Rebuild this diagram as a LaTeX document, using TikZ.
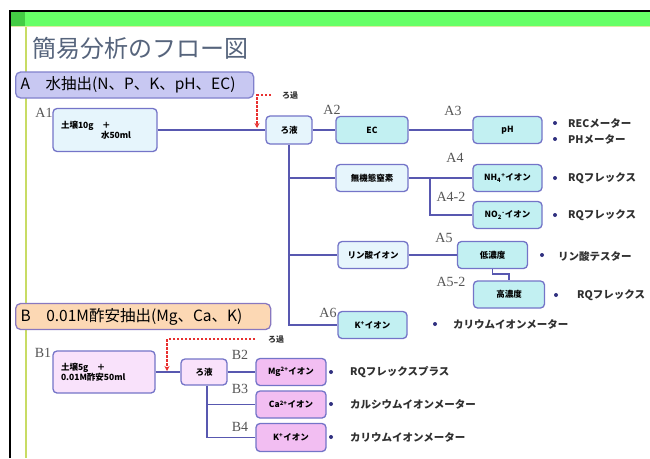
\documentclass[tikz,border=0pt]{standalone}
\usepackage{fontspec}
\setmainfont{Noto Sans CJK JP}
\newfontfamily\labfont{Liberation Serif}
\usetikzlibrary{arrows.meta,calc}
\definecolor{linec}{HTML}{5858B0}
\definecolor{boxc}{HTML}{7474C8}
\definecolor{cyanf}{HTML}{C2F0F2}
\definecolor{lightf}{HTML}{E6F5FC}
\definecolor{pinkf}{HTML}{F9E2FB}
\definecolor{magf}{HTML}{F2BEF2}
\definecolor{headAf}{HTML}{C8C8F2}
\definecolor{headAc}{HTML}{8080CC}
\definecolor{headBf}{HTML}{FCD8B4}
\definecolor{headBc}{HTML}{8878C0}
\definecolor{titlec}{HTML}{56647C}
\definecolor{labc}{HTML}{555555}
\definecolor{bulc}{HTML}{303080}
\definecolor{redc}{HTML}{E83030}
\definecolor{greenbar}{HTML}{66FF66}
\definecolor{darkgreen}{HTML}{44CC44}
\definecolor{yline}{HTML}{C8DC64}
\definecolor{notec}{HTML}{303030}
\begin{document}
\begin{tikzpicture}[x=1pt,y=-1pt,
  box/.style={draw=boxc, line width=1.3pt, rounded corners=4pt,
    font=\fontsize{8.5}{10}\selectfont\bfseries, inner sep=1pt, align=center,
    minimum width=68pt, minimum height=27pt},
  link/.style={draw=linec, line width=1.6pt},
  filt/.style={draw=redc, line width=1.3pt, dash pattern=on 2.5pt off 1.5pt,
    -{Stealth[length=5pt,width=5pt]}},
  lbl/.style={font=\labfont\fontsize{14}{14}\selectfont, text=labc, inner sep=0pt},
  note/.style={font=\fontsize{10.5}{11}\selectfont\bfseries, text=notec, inner sep=0pt, anchor=west},
  head/.style={line width=1.3pt, rounded corners=5pt, align=left,
    font=\fontsize{15.5}{17}\selectfont, inner xsep=5pt, minimum height=26pt, anchor=west}
]
\useasboundingbox (0,0) rectangle (650,458);
\fill[white] (0,0) rectangle (650,458);
% slide frame
\fill[greenbar] (11,12) rectangle (650,26);
\fill[darkgreen] (11,12) rectangle (25,26);
\draw[yline!60, line width=0.8pt] (11,26.5) -- (650,26.5);
\draw[black, line width=1.5pt] (10,458) -- (10,11) -- (650,11);
\draw[yline, line width=2pt] (26,27) -- (26,458);
% title
\node[font=\fontsize{24}{26}\selectfont, text=titlec, anchor=west, inner sep=0pt] (title) at (32,48) {簡易分析のフロー図};
% headers
\node[head, draw=headAc, fill=headAf, text width=228pt] (hA) at (15,85) {A　水抽出(N、P、K、pH、EC)};
\node[head, draw=headBc, fill=headBf, text width=245pt] (hB) at (15,316.5) {B　0.01M酢安抽出(Mg、Ca、K)};

% ---- A nodes
\node[box, fill=lightf, text width=88pt, inner xsep=8pt, minimum height=43pt, align=left] (A1) at (105,130) {土壌10g　＋\\\hspace*{40pt}水50ml};
\node[box, fill=lightf, minimum width=46pt, minimum height=28pt] (rA) at (289,130) {ろ液};
\node[box, fill=cyanf, minimum width=72pt] (EC) at (372,130) {EC};
\node[box, fill=cyanf, minimum width=69pt] (pH) at (507.5,130) {pH};
\node[box, fill=lightf, minimum width=72pt] (N) at (372,178) {無機態窒素};
\node[box, fill=cyanf, minimum width=69pt] (NH4) at (507.5,178) {NH\textsubscript{4}\textsuperscript{+}イオン};
\node[box, fill=cyanf, minimum width=69pt] (NO2) at (507.5,215) {NO\textsubscript{2}\textsuperscript{-}イオン};
\node[box, fill=lightf, minimum width=70pt] (P) at (373,255) {リン酸イオン};
\node[box, fill=cyanf, minimum width=70pt] (low) at (492.5,255) {低濃度};
\node[box, fill=cyanf, minimum width=71pt] (high) at (509,294.5) {高濃度};
\node[box, fill=cyanf, minimum width=69pt] (K) at (372.5,325) {K\textsuperscript{+}イオン};

% ---- B nodes
\node[box, fill=pinkf, text width=86pt, inner xsep=8pt, minimum height=42pt, align=left] (B1) at (104,372) {土壌5g　＋\\0.01M酢安50ml};
\node[box, fill=pinkf, minimum width=46pt, minimum height=26pt] (rB) at (204,372) {ろ液};
\node[box, fill=magf, minimum width=70pt] (Mg) at (291,372) {Mg\textsuperscript{2+}イオン};
\node[box, fill=magf, minimum width=70pt] (Ca) at (291,404.5) {Ca\textsuperscript{2+}イオン};
\node[box, fill=magf, minimum width=70pt, minimum height=28pt] (KB) at (291,437.5) {K\textsuperscript{+}イオン};

% ---- step labels
\node[lbl] (lA1) at (44,113) {A1};
\node[lbl] (lA2) at (332,110) {A2};
\node[lbl] (lA3) at (453,111) {A3};
\node[lbl] (lA4) at (455,158) {A4};
\node[lbl] (lA42) at (451,197) {A4-2};
\node[lbl] (lA5) at (444,238) {A5};
\node[lbl] (lA52) at (451,282) {A5-2};
\node[lbl] (lA6) at (328,313) {A6};
\node[lbl] (lB1) at (43,353) {B1};
\node[lbl] (lB2) at (240,355) {B2};
\node[lbl] (lB3) at (240,389) {B3};
\node[lbl] (lB4) at (240,427) {B4};

% ---- connectors
\draw[link] (A1) -- (rA);
\draw[link] (rA) -- (EC);
\draw[link] (EC) -- (pH);
\draw[link] (rA.south) |- (K.west);
\draw[link] (rA.south |- N.west) -- (N.west);
\draw[link] (rA.south |- P.west) -- (P.west);
\draw[link] (N) -- (NH4);
\coordinate (nj) at (430,178);
\draw[link] (nj) |- (NO2.west);
\draw[link] (P) -- (low);
\draw[link] (low.south) -- ++(0,5) -| (high.north);

\draw[link] (B1) -- (rB);
\draw[link] (rB) -- (Mg);
\draw[link] ([xshift=3pt]rB.south) |- (KB.west);
\draw[link] ([xshift=3pt]rB.south |- Ca.west) -- (Ca.west);

% ---- filtration arrows
\coordinate (fAs) at (271,95);
\coordinate (fAe) at (257,128);
\draw[filt] (fAs) -| (fAe);
\node[font=\fontsize{8}{9}\selectfont\bfseries, text=notec, inner sep=0pt] (fAl) at (290,96) {ろ過};
\coordinate (fBs) at (255,339);
\coordinate (fBe) at (167,371);
\draw[filt] (fBs) -| (fBe);
\node[font=\fontsize{8}{9}\selectfont\bfseries, text=notec, inner sep=0pt] (fBl) at (276,340) {ろ過};

% ---- notes
\foreach \p in {(555,123),(555,139),(555,178),(555,215),(542,255),(556,295),(435,324),(331,372),(331,404),(331,437)}
  \fill[bulc] \p circle (2pt);
\node[note] (n1) at (568,123) {RECメーター};
\node[note] (n2) at (568,139) {PHメーター};
\node[note] (n3) at (568,178) {RQフレックス};
\node[note] (n4) at (568,215) {RQフレックス};
\node[note] (n5) at (558,256) {リン酸テスター};
\node[note] (n6) at (577,295) {RQフレックス};
\node[note] (n7) at (453,324) {カリウムイオンメーター};
\node[note] (n8) at (350,372) {RQフレックスプラス};
\node[note] (n9) at (350,404) {カルシウムイオンメーター};
\node[note] (n10) at (350,437) {カリウムイオンメーター};
\end{tikzpicture}
\end{document}
